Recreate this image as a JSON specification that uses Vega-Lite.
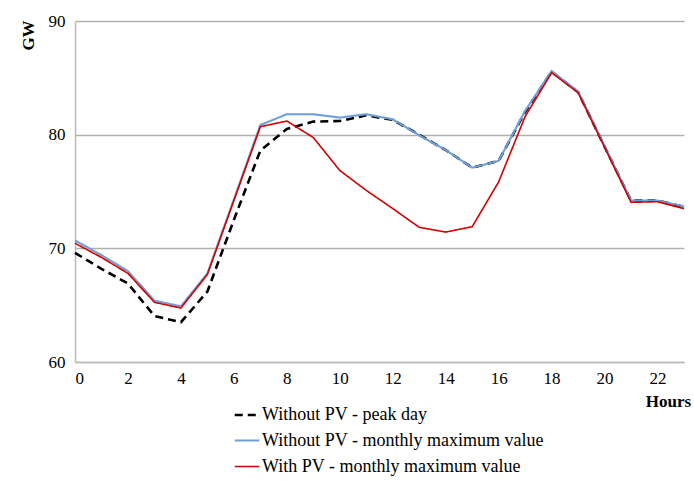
{
  "$schema": "https://vega.github.io/schema/vega-lite/v6.json",
  "width": 609,
  "height": 341,
  "autosize": {"type": "none"},
  "padding": {"left": 75, "top": 21, "right": 10, "bottom": 119},
  "background": "white",
  "config": {
    "font": "Times New Roman, Liberation Serif, serif",
    "view": {"stroke": null},
    "axis": {"labelFont": "Times New Roman, Liberation Serif, serif", "titleFont": "Times New Roman, Liberation Serif, serif"},
    "legend": {"labelFont": "Times New Roman, Liberation Serif, serif"}
  },
  "data": {
    "values": [
      {"hour": 0, "series": "Without PV - peak day", "gw": 69.6},
      {"hour": 1, "series": "Without PV - peak day", "gw": 68.2},
      {"hour": 2, "series": "Without PV - peak day", "gw": 66.9},
      {"hour": 3, "series": "Without PV - peak day", "gw": 64.05},
      {"hour": 4, "series": "Without PV - peak day", "gw": 63.5},
      {"hour": 5, "series": "Without PV - peak day", "gw": 66.2},
      {"hour": 6, "series": "Without PV - peak day", "gw": 72.5},
      {"hour": 7, "series": "Without PV - peak day", "gw": 78.6},
      {"hour": 8, "series": "Without PV - peak day", "gw": 80.5},
      {"hour": 9, "series": "Without PV - peak day", "gw": 81.15},
      {"hour": 10, "series": "Without PV - peak day", "gw": 81.2},
      {"hour": 11, "series": "Without PV - peak day", "gw": 81.7},
      {"hour": 12, "series": "Without PV - peak day", "gw": 81.3},
      {"hour": 13, "series": "Without PV - peak day", "gw": 80.0},
      {"hour": 14, "series": "Without PV - peak day", "gw": 78.65},
      {"hour": 15, "series": "Without PV - peak day", "gw": 77.1},
      {"hour": 16, "series": "Without PV - peak day", "gw": 77.7},
      {"hour": 17, "series": "Without PV - peak day", "gw": 82.0},
      {"hour": 18, "series": "Without PV - peak day", "gw": 85.55},
      {"hour": 19, "series": "Without PV - peak day", "gw": 83.75},
      {"hour": 20, "series": "Without PV - peak day", "gw": 78.95},
      {"hour": 21, "series": "Without PV - peak day", "gw": 74.2},
      {"hour": 22, "series": "Without PV - peak day", "gw": 74.2},
      {"hour": 23, "series": "Without PV - peak day", "gw": 73.65},
      {"hour": 0, "series": "Without PV - monthly maximum value", "gw": 70.7},
      {"hour": 1, "series": "Without PV - monthly maximum value", "gw": 69.4},
      {"hour": 2, "series": "Without PV - monthly maximum value", "gw": 68.0},
      {"hour": 3, "series": "Without PV - monthly maximum value", "gw": 65.4},
      {"hour": 4, "series": "Without PV - monthly maximum value", "gw": 64.9},
      {"hour": 5, "series": "Without PV - monthly maximum value", "gw": 67.8},
      {"hour": 6, "series": "Without PV - monthly maximum value", "gw": 74.3},
      {"hour": 7, "series": "Without PV - monthly maximum value", "gw": 80.85},
      {"hour": 8, "series": "Without PV - monthly maximum value", "gw": 81.8},
      {"hour": 9, "series": "Without PV - monthly maximum value", "gw": 81.8},
      {"hour": 10, "series": "Without PV - monthly maximum value", "gw": 81.5},
      {"hour": 11, "series": "Without PV - monthly maximum value", "gw": 81.8},
      {"hour": 12, "series": "Without PV - monthly maximum value", "gw": 81.35},
      {"hour": 13, "series": "Without PV - monthly maximum value", "gw": 79.95},
      {"hour": 14, "series": "Without PV - monthly maximum value", "gw": 78.65},
      {"hour": 15, "series": "Without PV - monthly maximum value", "gw": 77.1},
      {"hour": 16, "series": "Without PV - monthly maximum value", "gw": 77.7},
      {"hour": 17, "series": "Without PV - monthly maximum value", "gw": 82.1},
      {"hour": 18, "series": "Without PV - monthly maximum value", "gw": 85.6},
      {"hour": 19, "series": "Without PV - monthly maximum value", "gw": 83.8},
      {"hour": 20, "series": "Without PV - monthly maximum value", "gw": 79.0},
      {"hour": 21, "series": "Without PV - monthly maximum value", "gw": 74.2},
      {"hour": 22, "series": "Without PV - monthly maximum value", "gw": 74.2},
      {"hour": 23, "series": "Without PV - monthly maximum value", "gw": 73.7},
      {"hour": 0, "series": "With PV - monthly maximum value", "gw": 70.45},
      {"hour": 1, "series": "With PV - monthly maximum value", "gw": 69.2},
      {"hour": 2, "series": "With PV - monthly maximum value", "gw": 67.8},
      {"hour": 3, "series": "With PV - monthly maximum value", "gw": 65.25},
      {"hour": 4, "series": "With PV - monthly maximum value", "gw": 64.75},
      {"hour": 5, "series": "With PV - monthly maximum value", "gw": 67.7},
      {"hour": 6, "series": "With PV - monthly maximum value", "gw": 74.2},
      {"hour": 7, "series": "With PV - monthly maximum value", "gw": 80.7},
      {"hour": 8, "series": "With PV - monthly maximum value", "gw": 81.2},
      {"hour": 9, "series": "With PV - monthly maximum value", "gw": 79.75},
      {"hour": 10, "series": "With PV - monthly maximum value", "gw": 76.85},
      {"hour": 11, "series": "With PV - monthly maximum value", "gw": 75.1},
      {"hour": 12, "series": "With PV - monthly maximum value", "gw": 73.5},
      {"hour": 13, "series": "With PV - monthly maximum value", "gw": 71.85},
      {"hour": 14, "series": "With PV - monthly maximum value", "gw": 71.43},
      {"hour": 15, "series": "With PV - monthly maximum value", "gw": 71.9},
      {"hour": 16, "series": "With PV - monthly maximum value", "gw": 75.85},
      {"hour": 17, "series": "With PV - monthly maximum value", "gw": 81.6},
      {"hour": 18, "series": "With PV - monthly maximum value", "gw": 85.45},
      {"hour": 19, "series": "With PV - monthly maximum value", "gw": 83.7},
      {"hour": 20, "series": "With PV - monthly maximum value", "gw": 78.9},
      {"hour": 21, "series": "With PV - monthly maximum value", "gw": 74.05},
      {"hour": 22, "series": "With PV - monthly maximum value", "gw": 74.1},
      {"hour": 23, "series": "With PV - monthly maximum value", "gw": 73.5}
    ]
  },
  "mark": {"type": "line", "strokeCap": "butt", "strokeJoin": "miter"},
  "encoding": {
    "x": {
      "field": "hour",
      "type": "quantitative",
      "scale": {"domain": [0, 23], "nice": false, "zero": false},
      "axis": {
        "values": [0, 2, 4, 6, 8, 10, 12, 14, 16, 18, 20, 22],
        "title": "Hours",
        "titleFontWeight": "bold",
        "titleFontSize": 17,
        "titleColor": "black",
        "titleX": 593,
        "titleY": 39,
        "titleAlign": "center",
        "titleBaseline": "middle",
        "labelFontSize": 17,
        "labelColor": "black",
        "labelPadding": 8,
        "ticks": false,
        "grid": false,
        "domainColor": "#bbbbbb",
        "domainWidth": 1.5
      }
    },
    "y": {
      "field": "gw",
      "type": "quantitative",
      "scale": {"domain": [60, 90], "nice": false, "zero": false},
      "axis": {
        "values": [60, 70, 80, 90],
        "title": "GW",
        "titleFontWeight": "bold",
        "titleFontSize": 17,
        "titleColor": "black",
        "titleAngle": 270,
        "titleX": -47,
        "titleY": 14,
        "titleAlign": "center",
        "titleBaseline": "middle",
        "labelFontSize": 17,
        "labelColor": "black",
        "labelPadding": 10,
        "ticks": false,
        "grid": true,
        "gridColor": "#b0b0b0",
        "gridWidth": 1.3,
        "domainColor": "#bbbbbb",
        "domainWidth": 1.5
      }
    },
    "color": {
      "field": "series",
      "type": "nominal",
      "sort": ["Without PV - peak day", "Without PV - monthly maximum value", "With PV - monthly maximum value"],
      "scale": {
        "domain": ["Without PV - peak day", "Without PV - monthly maximum value", "With PV - monthly maximum value"],
        "range": ["#000000", "#6f9fd8", "#d40000"]
      },
      "legend": {
        "title": null,
        "orient": "none",
        "legendX": 158,
        "legendY": 380,
        "direction": "vertical",
        "labelFontSize": 18,
        "labelColor": "black",
        "symbolType": "stroke",
        "symbolSize": 600,
        "labelOffset": 1,
        "rowPadding": 3,
        "labelLimit": 400
      }
    },
    "strokeDash": {
      "field": "series",
      "type": "nominal",
      "sort": ["Without PV - peak day", "Without PV - monthly maximum value", "With PV - monthly maximum value"],
      "scale": {
        "domain": ["Without PV - peak day", "Without PV - monthly maximum value", "With PV - monthly maximum value"],
        "range": [[8, 5], [1, 0], [1, 0]]
      }
    },
    "strokeWidth": {
      "field": "series",
      "type": "nominal",
      "sort": ["Without PV - peak day", "Without PV - monthly maximum value", "With PV - monthly maximum value"],
      "scale": {
        "domain": ["Without PV - peak day", "Without PV - monthly maximum value", "With PV - monthly maximum value"],
        "range": [2.6, 1.6, 2]
      }
    }
  }
}
